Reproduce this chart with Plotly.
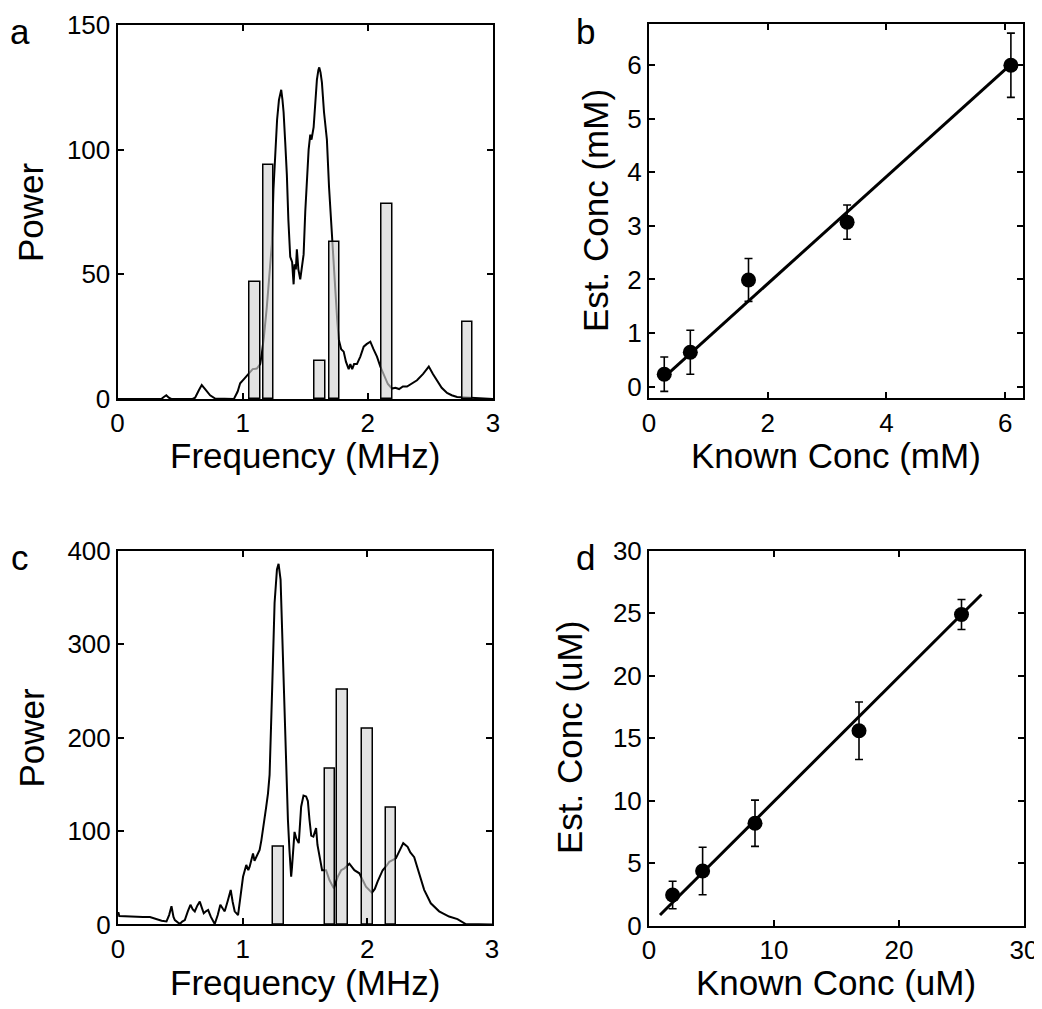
import plotly.graph_objects as go

FONT = "Liberation Sans, Arial, Helvetica, sans-serif"

# ---------------- Panel a: spectrum + concentration bars ----------------
a_freq = [0.00, 0.35, 0.37, 0.39, 0.41, 0.43, 0.60, 0.62, 0.65, 0.673, 0.70, 0.74, 0.78, 0.93,
          0.96, 0.98, 1.01, 1.047, 1.08, 1.113, 1.14, 1.153, 1.17, 1.193, 1.213, 1.233, 1.246,
          1.26, 1.275, 1.29, 1.308, 1.318, 1.327, 1.34, 1.353, 1.365, 1.38, 1.395, 1.407, 1.415,
          1.425, 1.433, 1.445, 1.46, 1.475, 1.487, 1.50, 1.513, 1.527, 1.54, 1.55, 1.567, 1.58,
          1.593, 1.605, 1.612, 1.622, 1.633, 1.65, 1.673, 1.69, 1.713, 1.727, 1.74, 1.755, 1.767,
          1.787, 1.807, 1.825, 1.847, 1.86, 1.875, 1.89, 1.913, 1.94, 1.967, 1.99, 2.02, 2.045,
          2.073, 2.10, 2.127, 2.16, 2.193, 2.22, 2.25, 2.28, 2.313, 2.35, 2.393, 2.44, 2.487,
          2.52, 2.553, 2.59, 2.633, 2.67, 2.713, 2.80, 2.90, 3.00]
a_power = [0, 0, 0.8, 1.5, 0.5, 0, 0, 0.5, 3.5, 5.6, 4, 1.5, 0.2, 0,
           3, 6.3, 8, 10.2, 12, 12.2, 14, 18.2, 25, 36.9, 50, 62, 84,
           100, 112, 120, 124, 120, 115, 103, 90, 72, 57, 55, 46, 54,
           52, 60, 52, 48, 55, 58, 75, 90, 100, 106, 104, 109, 118,
           128, 132, 133, 131, 127, 115, 104, 85, 64, 52, 44, 32, 24,
           20, 19, 15, 12, 14, 12, 14, 14, 17, 21, 22, 23, 20,
           17, 13, 10, 6, 4.2, 4.5, 4, 5, 5, 6, 7.5, 10, 13,
           10, 7.5, 4.5, 2.4, 1.5, 0.8, 0.6, 0.5, 0]
a_bar_freq = [1.097, 1.206, 1.617, 1.733, 2.152, 2.797]
a_bar_power = [47, 94, 15.4, 63, 78.4, 31]

# ---------------- Panel c: spectrum + concentration bars ----------------
c_freq = [0.0, 0.003, 0.01, 0.07, 0.15, 0.2, 0.256, 0.3, 0.35, 0.389, 0.41, 0.429, 0.445, 0.456,
          0.476, 0.496, 0.515, 0.536, 0.56, 0.581, 0.6, 0.616, 0.636, 0.656, 0.672, 0.688, 0.705,
          0.723, 0.745, 0.776, 0.8, 0.821, 0.84, 0.856, 0.88, 0.904, 0.92, 0.936, 0.963, 0.985,
          1.003, 1.029, 1.045, 1.056, 1.07, 1.083, 1.095, 1.109, 1.125, 1.136, 1.15, 1.163, 1.176,
          1.189, 1.203, 1.216, 1.237, 1.256, 1.275, 1.288, 1.304, 1.323, 1.344, 1.363, 1.375,
          1.389, 1.395, 1.416, 1.43, 1.45, 1.469, 1.488, 1.509, 1.523, 1.536, 1.55, 1.567, 1.589,
          1.6, 1.616, 1.637, 1.669, 1.696, 1.731, 1.763, 1.79, 1.816, 1.856, 1.876, 1.896, 1.936,
          1.96, 1.989, 2.037, 2.06, 2.083, 2.123, 2.15, 2.176, 2.229, 2.26, 2.288, 2.323, 2.345,
          2.376, 2.416, 2.456, 2.509, 2.576, 2.656, 2.723, 2.789, 3.0]
c_power = [12, 13, 9, 8.5, 8.5, 8, 7.9, 6, 4, 3.2, 10, 19.4, 8, 4.6,
           2, 0.4, 3, 4.6, 14, 21, 16, 13.9, 20, 24.4, 18, 11.9, 14,
           15.4, 8, 0.4, 10, 21, 17, 14, 25, 36.8, 24, 14, 10, 35,
           51, 63.6, 58, 61.8, 70, 76, 68, 72, 78, 79.7, 90, 101, 112,
           126, 140, 160, 254, 344, 380, 386, 369, 290, 183, 112, 80,
           51, 60, 99, 92, 87, 126, 138, 137, 132, 112, 95, 94, 103,
           85, 72, 58, 58, 47.5, 38.6, 51, 58, 60, 65, 62, 58, 54.7,
           48, 40.4, 34, 38, 46, 58, 62, 67, 70.7, 80, 87, 83, 77,
           72, 54.7, 37, 22.6, 14, 8.4, 5.6, 0.4, 0]
c_bar_freq = [1.285, 1.70, 1.80, 2.00, 2.19]
c_bar_power = [83, 167, 251, 209, 125]

# ---------------- Panel b: known vs estimated (mM) ----------------
b_known = [0.257, 0.696, 1.676, 3.337, 6.096]
b_est = [0.23, 0.64, 1.99, 3.07, 6.0]
b_err = [0.32, 0.41, 0.40, 0.32, 0.60]
b_fit_x = [0.28, 6.1]
b_fit_y = [0.20, 6.02]

# ---------------- Panel d: known vs estimated (uM) ----------------
d_known = [1.89, 4.29, 8.48, 16.8, 25.0]
d_est = [2.46, 4.38, 8.2, 15.6, 24.9]
d_err = [1.1, 1.9, 1.85, 2.3, 1.2]
d_fit_x = [0.88, 26.6]
d_fit_y = [0.86, 26.5]

# page body has an 8px margin: the figure starts at (8, 8) of the window
OFF = 8
W, H = 1042 - OFF, 1009 - OFF


def px(v):
    return (v - OFF) / W


def py(v):
    return 1 - (v - OFF) / H


fig = go.Figure()

bar_style = dict(marker=dict(color="rgba(212,212,212,0.65)", line=dict(color="black", width=1.5)),
                 width=0.085, showlegend=False, hoverinfo="skip")
spec_style = dict(mode="lines", line=dict(color="black", width=2), showlegend=False)

# panel a
fig.add_trace(go.Scatter(x=a_freq, y=a_power, xaxis="x", yaxis="y", **spec_style))
fig.add_trace(go.Bar(x=a_bar_freq, y=a_bar_power, xaxis="x5", yaxis="y5", **bar_style))
# panel c
fig.add_trace(go.Scatter(x=c_freq, y=c_power, xaxis="x3", yaxis="y3", **spec_style))
fig.add_trace(go.Bar(x=c_bar_freq, y=c_bar_power, xaxis="x6", yaxis="y6", **bar_style))

err_style = dict(type="data", thickness=1.6, width=4, color="black")
mk = dict(color="black", size=15)
# panel b
fig.add_trace(go.Scatter(x=b_fit_x, y=b_fit_y, mode="lines", line=dict(color="black", width=3),
                         xaxis="x2", yaxis="y2", showlegend=False))
fig.add_trace(go.Scatter(x=b_known, y=b_est, mode="markers", marker=mk,
                         error_y=dict(array=b_err, **err_style),
                         xaxis="x2", yaxis="y2", showlegend=False))
# panel d
fig.add_trace(go.Scatter(x=d_fit_x, y=d_fit_y, mode="lines", line=dict(color="black", width=3),
                         xaxis="x4", yaxis="y4", showlegend=False))
fig.add_trace(go.Scatter(x=d_known, y=d_est, mode="markers", marker=mk,
                         error_y=dict(array=d_err, **err_style),
                         xaxis="x4", yaxis="y4", showlegend=False))

ax = dict(showline=True, linecolor="black", linewidth=2, mirror="ticks", ticks="inside",
          ticklen=6, tickwidth=1.5, tickcolor="black", showgrid=False, zeroline=False,
          automargin=False, ticklabeloverflow="allow",
          tickfont=dict(family=FONT, size=26, color="black"), fixedrange=True)
hid = dict(visible=False, fixedrange=True, automargin=False, showgrid=False, zeroline=False)

fig.update_layout(
    width=W, height=H, margin=dict(l=0, r=0, t=0, b=0, autoexpand=False),
    paper_bgcolor="white", plot_bgcolor="white", bargap=0,
    xaxis=dict(ax, domain=[px(117.5), px(493)], range=[0, 3], tickvals=[0, 1, 2, 3], anchor="y",
               ticklabelstandoff=0),
    yaxis=dict(ax, domain=[py(399), py(25)], range=[0, 150], tickvals=[0, 50, 100, 150], anchor="x"),
    xaxis2=dict(ax, domain=[px(649), px(1023)], range=[0, 6.3], tickvals=[0, 2, 4, 6], anchor="y2",
                ticklabelstandoff=0),
    yaxis2=dict(ax, domain=[py(398.3), py(24)], range=[-0.22, 6.77], tickvals=[0, 1, 2, 3, 4, 5, 6],
                anchor="x2"),
    xaxis3=dict(ax, domain=[px(118), px(492)], range=[0, 3], tickvals=[0, 1, 2, 3], anchor="y3",
                ticklabelstandoff=0),
    yaxis3=dict(ax, domain=[py(924.4), py(550.7)], range=[0, 400], tickvals=[0, 100, 200, 300, 400],
                anchor="x3"),
    xaxis4=dict(ax, domain=[px(649), px(1024)], range=[0, 30], tickvals=[0, 10, 20, 30], anchor="y4",
                ticklabelstandoff=0),
    yaxis4=dict(ax, domain=[py(925.8), py(550.7)], range=[0, 30], tickvals=[0, 5, 10, 15, 20, 25, 30],
                anchor="x4"),
    xaxis5=dict(hid, overlaying="x", range=[0, 3], anchor="y5"),
    yaxis5=dict(hid, overlaying="y", range=[0, 150], anchor="x5"),
    xaxis6=dict(hid, overlaying="x3", range=[0, 3], anchor="y6"),
    yaxis6=dict(hid, overlaying="y3", range=[0, 400], anchor="x6"),
)

tfont = dict(family=FONT, size=35, color="black")
annots = [
    ("a", 20, 31, 0), ("b", 585, 31, 0), ("c", 20, 557, 0), ("d", 585, 557, 0),
    ("Frequency (MHz)", 305, 456, 0), ("Known Conc (mM)", 836, 456, 0),
    ("Frequency (MHz)", 305, 982, 0), ("Known Conc (uM)", 836, 982, 0),
    ("Power", 31, 212, -90), ("Power", 31, 737.5, -90),
    ("Est. Conc (mM)", 595, 211, -90), ("Est. Conc (uM)", 569, 738, -90),
]
for txt, x, y, ang in annots:
    fig.add_annotation(text=txt, x=px(x), y=py(y), xref="paper", yref="paper",
                       xanchor="center", yanchor="middle", showarrow=False,
                       textangle=ang, font=tfont)

fig.write_html("out.html")
